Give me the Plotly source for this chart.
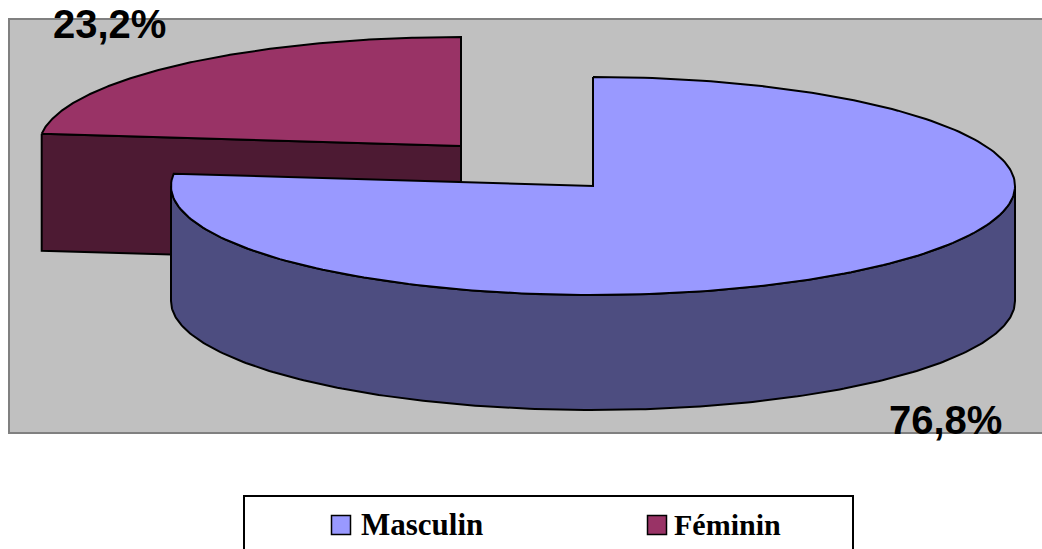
import numpy as np
import plotly.graph_objects as go

# Sex distribution, in percent
categories = ["Masculin", "Féminin"]
shares = [76.8, 23.2]
top_colors = ["#9999FF", "#993366"]
side_colors = ["#4D4D80", "#4D1A33"]
percent_labels = ["76,8%", "23,2%"]

# Pixel layout of the drawing
WIDTH, HEIGHT = 1042, 549
RX, RY, DEPTH = 422, 109, 117
CENTERS = [(593, 186), (461, 146)]


def rim(center, a0, a1, dy=0, n=240):
    """Ellipse arc; angles are degrees clockwise from 12 o'clock."""
    t = np.radians(np.linspace(a0, a1, n))
    return center[0] + RX * np.sin(t), center[1] - RY * np.cos(t) + dy


def add_poly(fig, x, y, color):
    fig.add_trace(go.Scatter(
        x=np.append(x, x[0]), y=np.append(y, y[0]), mode="lines", fill="toself",
        fillcolor=color, line=dict(color="black", width=2), hoverinfo="skip",
    ))


fig = go.Figure()

split = shares[0] * 3.6  # angle where the first slice ends

# Féminin slice sits behind: cut face first, then its top
cf = CENTERS[1]
ex, ey = rim(cf, split, split, n=1)
add_poly(fig, [ex[0], cf[0], cf[0], ex[0]],
         [ey[0], cf[1], cf[1] + DEPTH, ey[0] + DEPTH], side_colors[1])
x, y = rim(cf, split, 360)
add_poly(fig, np.concatenate([x, [cf[0]]]), np.concatenate([y, [cf[1]]]), top_colors[1])

# Masculin slice in front: outer wall, then its top
cm = CENTERS[0]
x1, y1 = rim(cm, 90, 270)
x2, y2 = rim(cm, 270, 90, dy=DEPTH - 2)
add_poly(fig, np.concatenate([x1, x2]), np.concatenate([y1, y2]), side_colors[0])
x, y = rim(cm, 0, split)
add_poly(fig, np.concatenate([x, [cm[0]]]), np.concatenate([y, [cm[1]]]), top_colors[0])

# Legend swatches
fig.add_trace(go.Scatter(
    x=[341, 657], y=[525, 525], mode="markers",
    marker=dict(symbol="square", size=19, color=top_colors,
                line=dict(color="black", width=1.5)),
    hoverinfo="skip",
))

annotations = [
    dict(x=945, y=420, text=percent_labels[0]),
    dict(x=109, y=24, text=percent_labels[1]),
]
annotations = [dict(a, xref="x", yref="y", showarrow=False,
                    font=dict(family="Liberation Sans", size=40, color="black"))
               | {"text": f"<b>{a['text']}</b>"} for a in annotations]
annotations += [
    dict(x=x_, y=524, xref="x", yref="y", text=f"<b>{name}</b>", showarrow=False,
         xanchor="left", font=dict(family="Liberation Serif", size=size, color="black"))
    for x_, name, size in zip([359, 672], categories, [31, 30])
]

fig.update_layout(
    width=WIDTH, height=HEIGHT, margin=dict(l=0, r=0, t=0, b=0),
    paper_bgcolor="white", plot_bgcolor="white", showlegend=False,
    xaxis=dict(range=[0, WIDTH], visible=False),
    yaxis=dict(range=[HEIGHT, 0], visible=False),
    annotations=annotations,
    shapes=[
        dict(type="rect", x0=9, y0=19, x1=WIDTH + 20, y1=433, layer="below",
             fillcolor="#C0C0C0", line=dict(color="#808080", width=2)),
        dict(type="rect", x0=244, y0=496, x1=853, y1=HEIGHT + 20, layer="below",
             fillcolor="white", line=dict(color="black", width=2)),
    ],
)

fig.write_html("out.html", config=dict(displayModeBar=False))
